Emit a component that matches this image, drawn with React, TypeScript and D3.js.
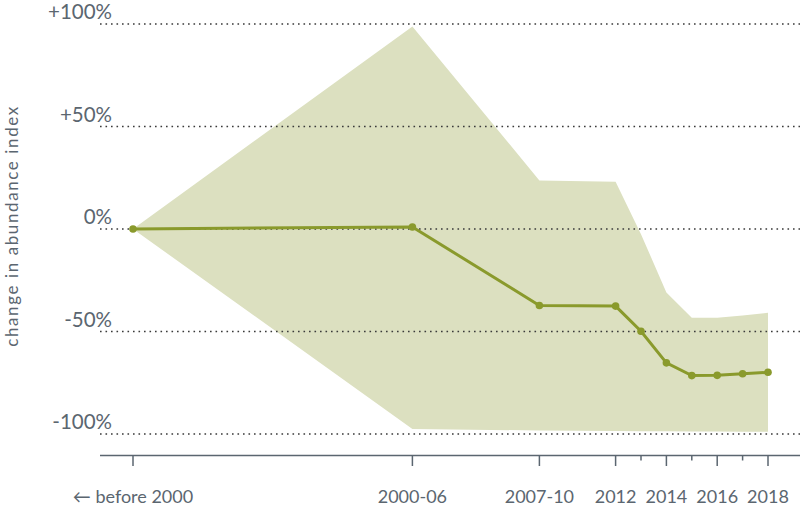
import React from "react";
import * as d3 from "d3";

const years = [1993, 2004, 2009, 2012, 2013, 2014, 2015, 2016, 2017, 2018];
const index = [0, 1, -37.3, -37.6, -49.9, -65.3, -71.5, -71.4, -70.6, -69.9];
const upper = [0, 98.8, 23.7, 23.0, -2.5, -31, -43.3, -43.3, -42.2, -40.9];
const lower = [0, -97.5, -98.3, -98.5, -98.6, -98.7, -98.8, -98.8, -98.9, -98.9];

const majorTicks = [1993, 2004, 2009, 2012, 2014, 2016, 2018];
const minorTicks = [2013, 2015, 2017];
const tickLabels = ["← before 2000", "2000-06", "2007-10", "2012", "2014", "2016", "2018"];

const yTicks = [100, 50, 0, -50, -100];
const yTickLabels = ["+100%", "+50%", "0%", "-50%", "-100%"];

const W = 800;
const H = 509;

export default function App() {
  const x = d3.scaleLinear().domain([1993, 2018]).range([133, 768]);
  const y = d3.scaleLinear().domain([-100, 100]).range([434, 24]);

  const area = d3
    .area<number>()
    .x((_, i) => x(years[i]))
    .y0((_, i) => y(lower[i]))
    .y1((_, i) => y(upper[i]));
  const line = d3
    .line<number>()
    .x((_, i) => x(years[i]))
    .y((d) => y(d));

  const textColor = "#5b6670";
  const font = "Lato, 'Open Sans', sans-serif";

  return (
    <svg width={W} height={H} style={{ position: "absolute", left: 0, top: 0 }}>
      <path d={area(years.map(() => 0)) || ""} fill="#dce0c0" />
      {yTicks.map((t, i) => (
        <g key={t}>
          <line
            x1={100}
            x2={800}
            y1={y(t)}
            y2={y(t)}
            stroke="#3a3a3a"
            strokeWidth={1.6}
            strokeDasharray="1.6 3.9"
          />
          <text
            x={112}
            y={y(t) - 5}
            textAnchor="end"
            fontFamily={font}
            fontSize={20.5}
            fill={textColor}
          >
            {yTickLabels[i]}
          </text>
        </g>
      ))}
      <path d={line(index) || ""} fill="none" stroke="#8a9a2c" strokeWidth={3} />
      {index.map((v, i) => (
        <circle key={i} cx={x(years[i])} cy={y(v)} r={3.8} fill="#8a9a2c" />
      ))}
      <line x1={100} x2={800} y1={455.5} y2={455.5} stroke={textColor} strokeWidth={1.5} />
      {majorTicks.map((t, i) => (
        <g key={t}>
          <line x1={x(t)} x2={x(t)} y1={455.5} y2={466} stroke={textColor} strokeWidth={1.5} />
          <text
            x={x(t)}
            y={503}
            textAnchor="middle"
            fontFamily={font}
            fontSize={18}
            fill={textColor}
          >
            {tickLabels[i]}
          </text>
        </g>
      ))}
      {minorTicks.map((t) => (
        <line key={t} x1={x(t)} x2={x(t)} y1={455.5} y2={460.5} stroke={textColor} strokeWidth={1.5} />
      ))}
      <text
        transform="translate(17.5,226) rotate(-90)"
        textAnchor="middle"
        fontFamily={font}
        fontSize={17}
        letterSpacing={1.6}
        fill={textColor}
      >
        change in abundance index
      </text>
    </svg>
  );
}
